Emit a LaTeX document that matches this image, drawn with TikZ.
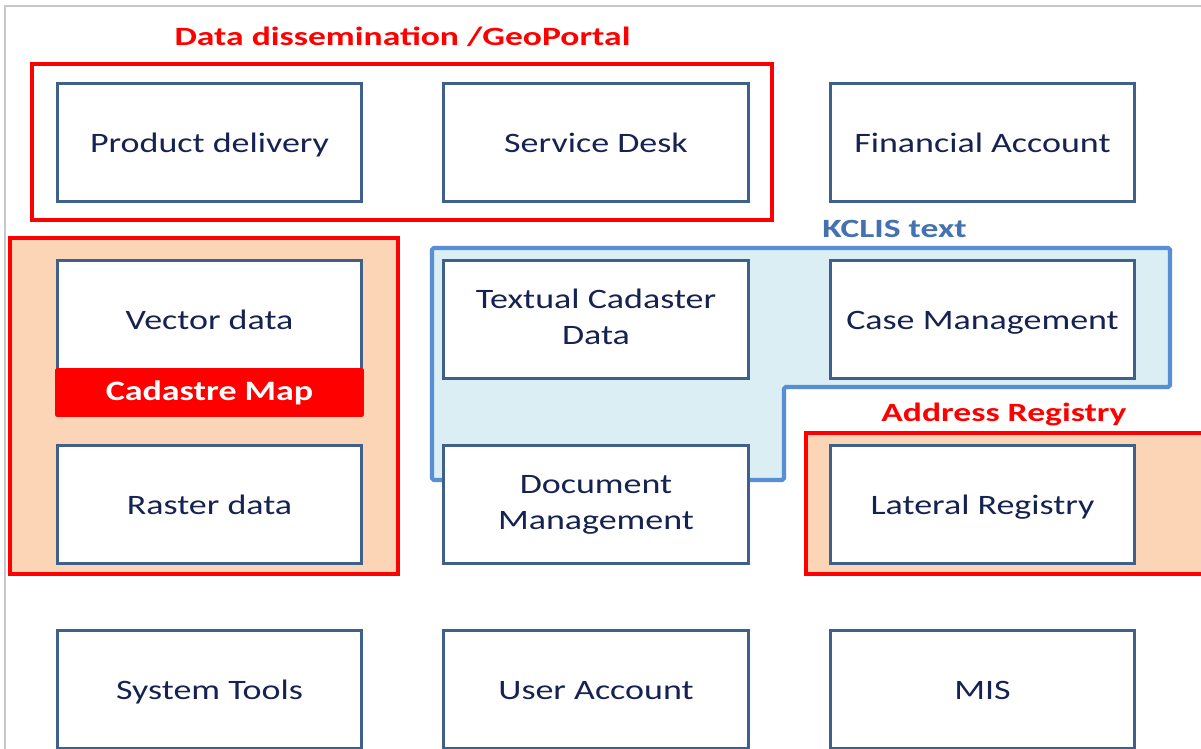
\documentclass[tikz,border=0pt]{standalone}
\usepackage{fontspec}
\usepackage{tikz}
\newfontfamily\boxfont[FakeStretch=1.28]{Carlito}
\newfontfamily\tagfont[FakeStretch=1.35]{Carlito}
\definecolor{boxline}{RGB}{64,96,140}
\definecolor{boxtext}{RGB}{22,34,82}
\definecolor{peach}{RGB}{251,213,181}
\definecolor{paleblue}{RGB}{219,238,243}
\definecolor{kclisline}{RGB}{88,142,212}
\definecolor{kclistext}{RGB}{68,114,176}
\definecolor{pagegray}{RGB}{200,200,200}
\newcommand{\boxtopstrut}{\rule{0pt}{17.6pt}}
\newcommand{\boxbotstrut}{\rule[-6pt]{0pt}{6pt}}
\newcommand{\twolines}[2]{\raisebox{-1.2pt}{\begin{tabular}{@{}c@{}}#1\\#2\end{tabular}}}
\tikzstyle{module}=[draw=boxline, line width=1.7pt, fill=white, minimum width=6.1cm, minimum height=2.36cm, inner sep=0pt, align=center, text=boxtext, font=\boxfont\fontsize{16}{20}\selectfont, execute at begin node=\boxtopstrut, execute at end node=\boxbotstrut]
\tikzstyle{twoline}=[execute at begin node={}, execute at end node={}]
\tikzstyle{grouptag}=[text=red, inner sep=0pt, font=\tagfont\bfseries\fontsize{15}{18}\selectfont]
\tikzstyle{redframe}=[draw=red, line width=2.6pt]

\begin{document}
\begin{tikzpicture}[x=0.02cm, y=-0.02cm]
		   \clip (0,0) rectangle (1201,749);
		   \fill[white] (0,0) rectangle (1201,749);
		   \draw[pagegray, line width=1pt] (5,760) -- (5,6) -- (1210,6);
		   \begin{scope}
			   \draw[redframe] (32,64) rectangle (772,220);
			   \draw[redframe, fill=peach] (10,238) rectangle (398,574);
			   \draw[draw=kclisline, fill=paleblue, line width=2.3pt, rounded corners=1pt]
			       (432,248) -- (1170,248) -- (1170,387) -- (784,387) -- (784,480) -- (432,480) -- cycle;
			   \draw[redframe, fill=peach] (806,433) rectangle (1215,574);
		   \end{scope}
		   \begin{scope}
			   \node (pd) at (209.5,142.5)[module] {Product delivery};
			   \node (sd) at (596,142.5)[module] {Service Desk};
			   \node (fa) at (982.5,142.5)[module] {Financial Account};
			   \node (vd) at (209.5,319.5)[module] {Vector data};
			   \node (tcd) at (596,319.5)[module, twoline] {\twolines{Textual Cadaster}{Data}};
			   \node (cm) at (982.5,319.5)[module] {Case Management};
			   \node (rd) at (209.5,504.5)[module] {Raster data};
			   \node (dm) at (596,504.5)[module, twoline] {\twolines{Document}{Management}};
			   \node (lr) at (982.5,504.5)[module] {Lateral Registry};
			   \node (st) at (209.5,689.5)[module] {System Tools};
			   \node (ua) at (596,689.5)[module] {User Account};
			   \node (mis) at (982.5,689.5)[module] {MIS};
		   \end{scope}
		   \begin{scope}
			   \node (map) at (209.5,392.5)[fill=red, minimum width=6.18cm, minimum height=0.98cm, rounded corners=1pt, text=white, font=\boxfont\bfseries\fontsize{16}{20}\selectfont] {Cadastre Map};
			   \node (geo) at (402.5,37)[grouptag] {Data dissemination /GeoPortal};
			   \node (kclis) at (894.5,229)[grouptag, text=kclistext] {KCLIS text};
			   \node (addr) at (1004,414)[grouptag] {Address Registry};
		   \end{scope}
	   \end{tikzpicture}
\end{document}
